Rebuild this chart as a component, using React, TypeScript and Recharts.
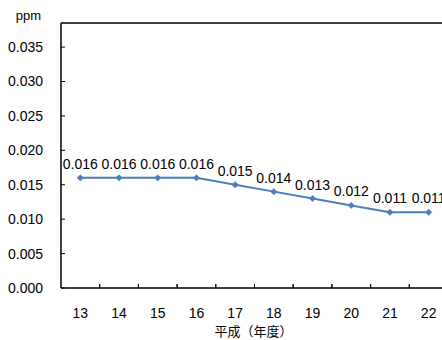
import React from 'react';
import { LineChart, Line, XAxis, YAxis, LabelList, ReferenceLine } from 'recharts';

const years = ['13', '14', '15', '16', '17', '18', '19', '20', '21', '22'];
const values = [0.016, 0.016, 0.016, 0.016, 0.015, 0.014, 0.013, 0.012, 0.011, 0.011];
const yTicks = [0, 0.005, 0.01, 0.015, 0.02, 0.025, 0.03, 0.035];
const yMax = 0.0385;
const unitLabel = 'ppm';
const xAxisTitle = '平成（年度）';

const data = years.map((y, i) => ({ year: y, value: values[i] }));

const FONT = '"Liberation Sans", Arial, "Noto Sans CJK JP", sans-serif';
const CJK_FONT = '"Noto Sans CJK JP", sans-serif';
const LINE_COLOR = '#4A7EBB';
const BAND = 38.7;

const YTick = (props: any) => {
  const { x, y, payload } = props;
  return (
    <g>
      <line x1={x} x2={x + 4} y1={y} y2={y} stroke="#000" strokeWidth={1} />
      <text x={x - 18} y={y} dy="0.355em" textAnchor="end" fontSize={14} fontFamily={FONT} fill="#000">
        {Number(payload.value).toFixed(3)}
      </text>
    </g>
  );
};

const XTick = (props: any) => {
  const { x, y, payload, index } = props;
  return (
    <g>
      {index > 0 && (
        <line x1={x - BAND / 2} x2={x - BAND / 2} y1={y} y2={y - 4} stroke="#000" strokeWidth={1} />
      )}
      <line x1={x + BAND / 2} x2={x + BAND / 2} y1={y} y2={y - 4} stroke="#000" strokeWidth={1} />
      <text x={x} y={y + 25} dy="0.355em" textAnchor="middle" fontSize={14} fontFamily={FONT} fill="#000">
        {payload.value}
      </text>
    </g>
  );
};

const Diamond = (props: any) => {
  const { cx, cy } = props;
  if (cx == null || cy == null) return null;
  const s = 3.2;
  return (
    <path
      d={`M${cx},${cy - s} L${cx + s},${cy} L${cx},${cy + s} L${cx - s},${cy} Z`}
      fill={LINE_COLOR}
      stroke={LINE_COLOR}
      strokeWidth={0.5}
    />
  );
};

const XTitle = (props: any) => {
  const { viewBox } = props;
  if (!viewBox) return null;
  const cx = viewBox.x + viewBox.width / 2 - 1;
  return (
    <text x={cx} y={331} dy="0.355em" textAnchor="middle" fontSize={13} fontFamily={CJK_FONT} fill="#000">
      {xAxisTitle}
    </text>
  );
};

export default function App() {
  return (
    <div style={{ position: 'fixed', left: 0, top: 0, width: 442, height: 340, overflow: 'hidden', background: '#fff' }}>
      <LineChart width={460} height={340} data={data} margin={{ top: 23, right: 12, left: 0, bottom: 0 }}>
        <XAxis
          dataKey="year"
          height={52}
          padding={{ left: BAND / 2, right: BAND / 2 }}
          tick={<XTick />}
          tickLine={false}
          tickSize={0}
          tickMargin={0}
          axisLine={{ stroke: '#000', strokeWidth: 1.5 }}
          interval={0}
          label={<XTitle />}
        />
        <YAxis
          width={61}
          domain={[0, yMax]}
          ticks={yTicks}
          tick={<YTick />}
          tickLine={false}
          tickSize={0}
          tickMargin={0}
          axisLine={{ stroke: '#000', strokeWidth: 1.5 }}
          label={{ value: unitLabel, position: 'top', offset: 3, fontSize: 13, fontFamily: FONT, fill: '#000', dx: -2 }}
        />
        <ReferenceLine y={yMax} stroke="#000" strokeWidth={1.5} />
        <Line
          type="linear"
          dataKey="value"
          stroke={LINE_COLOR}
          strokeWidth={2}
          dot={<Diamond />}
          activeDot={false}
          isAnimationActive={false}
        >
          <LabelList
            dataKey="value"
            position="top"
            offset={9}
            formatter={(v: any) => Number(v).toFixed(3)}
            style={{ fontSize: 14, fontFamily: FONT, fill: '#000' }}
          />
        </Line>
      </LineChart>
    </div>
  );
}
